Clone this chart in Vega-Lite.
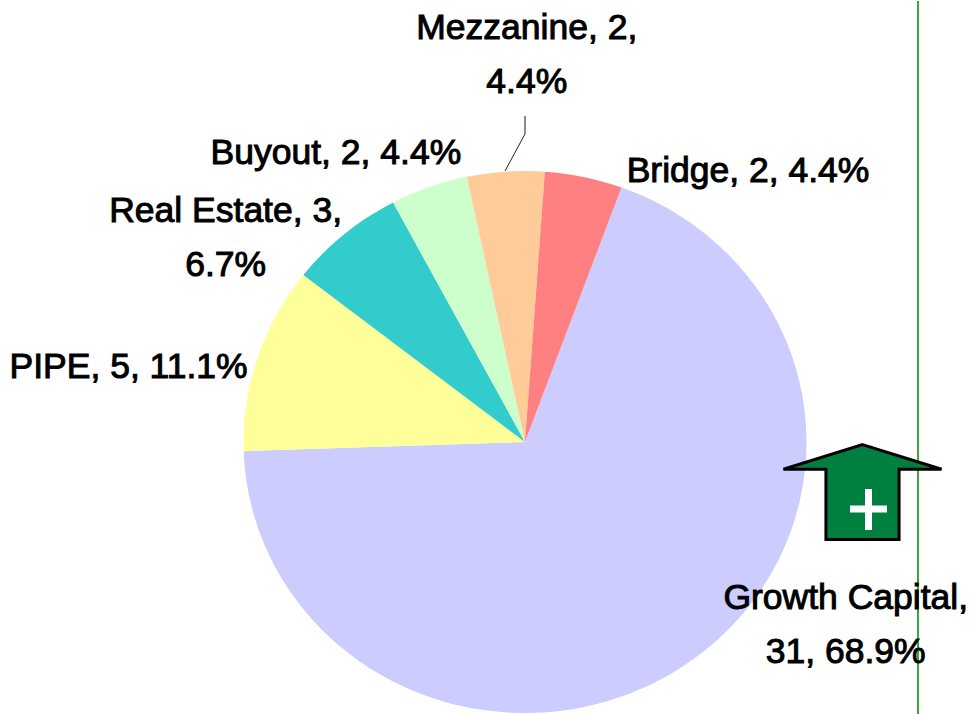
{
"$schema":"https://vega.github.io/schema/vega-lite/v6.json",
"autosize":{"type":"fit","contains":"padding"},
"width":970,"height":714,"padding":0,
"background":"white",
"config":{"view":{"stroke":null},"style":{"lbl":{"font":"Liberation Sans","fontSize":35.5,"lineHeight":54,"lineBreak":"\n","stroke":"black","strokeWidth":1,"fill":"black"}}},
"data":{"values":[
{"category":"Growth Capital","count":31,"pct":"68.9%","label":"Growth Capital,\n31, 68.9%"},
{"category":"PIPE","count":5,"pct":"11.1%","label":"PIPE, 5, 11.1%"},
{"category":"Real Estate","count":3,"pct":"6.7%","label":"Real Estate, 3,\n6.7%"},
{"category":"Buyout","count":2,"pct":"4.4%","label":"Buyout, 2, 4.4%"},
{"category":"Mezzanine","count":2,"pct":"4.4%","label":"Mezzanine, 2,\n4.4%"},
{"category":"Bridge","count":2,"pct":"4.4%","label":"Bridge, 2, 4.4%"}
]},
"transform":[
{"window":[{"op":"row_number","as":"idx"}]},
{"stack":"count","as":["s0","s1"],"sort":[{"field":"idx"}]},
{"calculate":"(datum.s0+datum.s1)/2","as":"mid"},
{"calculate":"0.35+datum.s0/45*2*PI","as":"a"},
{"calculate":"0.35+datum.s1/45*2*PI","as":"b"},
{"calculate":"'M0,0L'+sin(datum.a)+','+(-0.9627*cos(datum.a))+'A1,0.9627,0,'+(datum.b-datum.a>PI?1:0)+',1,'+sin(datum.b)+','+(-0.9627*cos(datum.b))+'Z'","as":"wedge"}
],
"encoding":{
"x":{"datum":525,"type":"quantitative","scale":{"domain":[0,970],"range":[0,970]},"axis":null},
"y":{"datum":441,"type":"quantitative","scale":{"domain":[0,714],"range":[0,714]},"axis":null}
},
"layer":[
{"mark":{"type":"point","filled":true,"opacity":1,"size":316969,"strokeWidth":0},
 "encoding":{
  "shape":{"field":"wedge","type":"nominal","scale":null,"legend":null},
  "color":{"field":"category","type":"nominal","legend":null,"scale":{"domain":["Growth Capital","PIPE","Real Estate","Buyout","Mezzanine","Bridge"],"range":["#CCCCFF","#FFFF99","#33CCCC","#CCFFCC","#FFCC99","#FF8080"]}}}},
{"data":{"values":[{"note":"divider"}]},"mark":{"type":"rule","color":"#3DA63D","strokeWidth":2},
 "encoding":{"x":{"datum":918},"y":{"datum":0},"y2":{"datum":714}}},
{"data":{"values":[{"note":"leader"}]},"mark":{"type":"rule","color":"#666666","strokeWidth":1.5},
 "encoding":{"x":{"datum":525},"y":{"datum":115},"y2":{"datum":133}}},
{"data":{"values":[{"note":"leader"}]},"mark":{"type":"rule","color":"#222222","strokeWidth":1},
 "encoding":{"x":{"datum":525},"x2":{"datum":505},"y":{"datum":133},"y2":{"datum":170}}},
{"data":{"values":[{"note":"arrow"}]},"mark":{"type":"point","filled":true,"opacity":1,"size":25000,"fill":"#008040","stroke":"black","strokeWidth":3,"strokeJoin":"miter",
  "shape":"M0,-0.6L1,-0.2875L0.4625,-0.2875L0.4625,0.6L-0.4625,0.6L-0.4625,-0.2875L-1,-0.2875Z"},
 "encoding":{"x":{"datum":862.5},"y":{"datum":491}}},
{"data":{"values":[{"note":"plus"}]},"mark":{"type":"rule","color":"white","strokeWidth":7},
 "encoding":{"x":{"datum":850},"x2":{"datum":887},"y":{"datum":508}}},
{"data":{"values":[{"note":"plus"}]},"mark":{"type":"rule","color":"white","strokeWidth":7},
 "encoding":{"x":{"datum":868.5},"y":{"datum":488},"y2":{"datum":529}}},
{"encoding":{
  "theta":{"field":"mid","type":"quantitative","stack":null,"scale":{"domain":[0,45],"range":[0.358,6.641]}},
  "text":{"field":"label"}},
 "layer":[
 {"transform":[{"filter":"datum.category=='Growth Capital'"}],"mark":{"type":"text","style":"lbl","radius":282,"dx":157,"dy":-74}},
 {"transform":[{"filter":"datum.category=='PIPE'"}],"mark":{"type":"text","style":"lbl","radius":282,"dx":-129,"dy":14}},
 {"transform":[{"filter":"datum.category=='Real Estate'"}],"mark":{"type":"text","style":"lbl","radius":282,"dx":-120,"dy":-13}},
 {"transform":[{"filter":"datum.category=='Buyout'"}],"mark":{"type":"text","style":"lbl","radius":282,"dx":-95,"dy":-23}},
 {"transform":[{"filter":"datum.category=='Mezzanine'"}],"mark":{"type":"text","style":"lbl","radius":282,"dx":19,"dy":-133}},
 {"transform":[{"filter":"datum.category=='Bridge'"}],"mark":{"type":"text","style":"lbl","radius":282,"dx":162,"dy":4}}
 ]}
]
}
